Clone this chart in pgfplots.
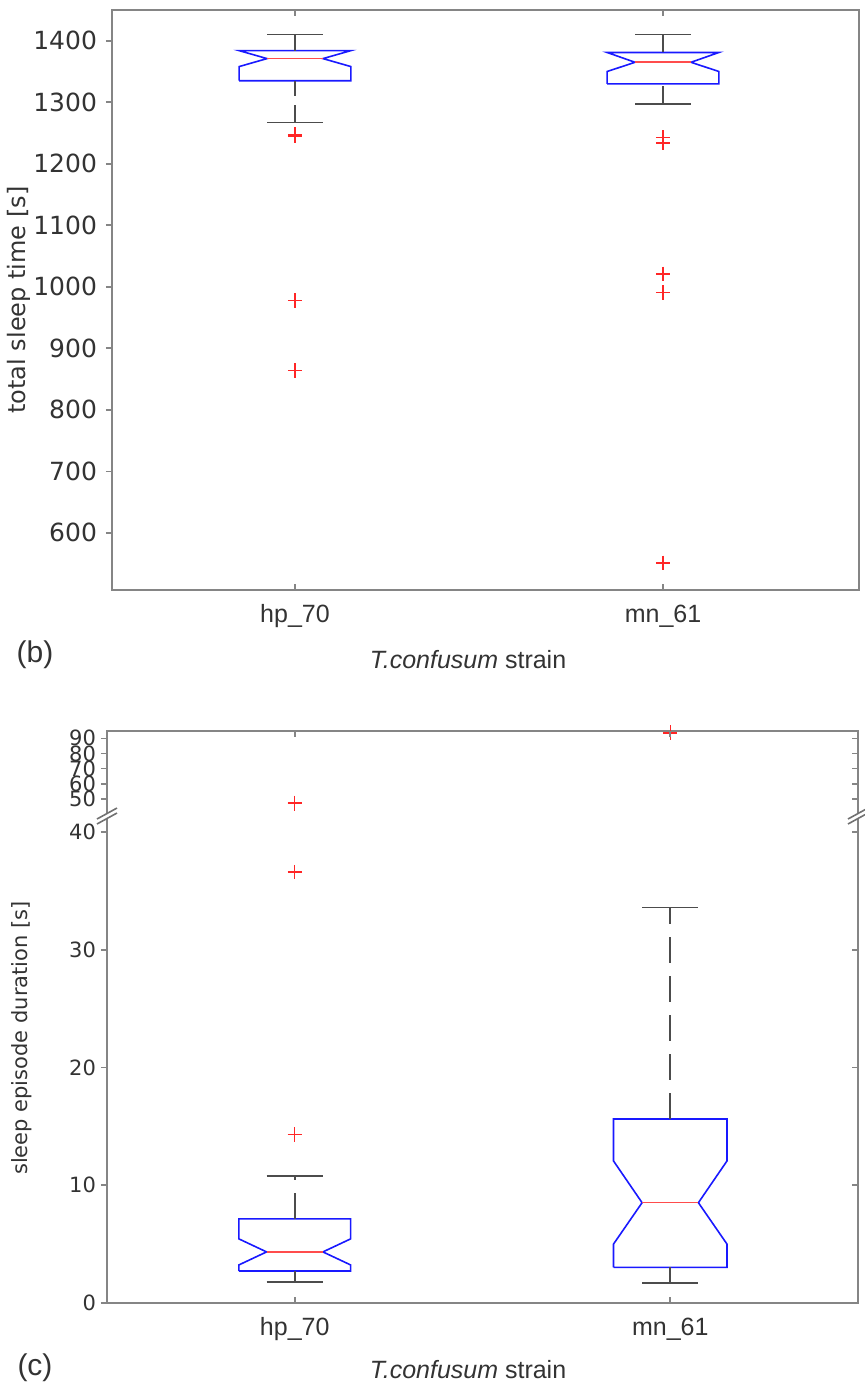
\documentclass[border=0pt]{standalone}
\usepackage{pgfplots}
\pgfplotsset{compat=1.18}
\usepackage{fontspec}
\setmainfont{Liberation Sans}
\newfontfamily\dejavu{DejaVu Sans}

\definecolor{boxblue}{rgb}{0.1,0.1,1}
\definecolor{medred}{rgb}{1,0.3,0.3}
\definecolor{outred}{rgb}{1,0.15,0.15}
\definecolor{framegray}{gray}{0.52}
\definecolor{whisk}{gray}{0.3}
\definecolor{labgray}{gray}{0.2}

\pgfplotsset{
  boxpanel/.style={
    scale only axis,
    axis line style={framegray, line width=1pt},
    tick style={framegray, line width=0.8pt},
    major tick length=3pt,
    tick align=outside,
    ytick pos=left,
    xtick=\empty,
    clip=false,
  },
  tickpanel/.style={
    scale only axis,
    axis line style={draw=none},
    tick style={framegray, line width=0.8pt},
    major tick length=3pt,
    tick align=inside,
    xtick={1,2},
    xtick pos=both,
    xticklabel pos=bottom,
    xticklabels={hp\_70,mn\_61},
    xticklabel style={font=\fontsize{12.5}{12.5}\selectfont, text=labgray, anchor=center, yshift=-13pt},
  },
  notchbox/.style={boxblue, line width=0.8pt},
  median/.style={medred, line width=0.8pt},
  cap/.style={whisk, line width=0.8pt},
  outlier/.style={only marks, mark=+, mark size=3.6pt, outred, mark options={line width=0.7pt}},
}

\begin{document}
\begin{tikzpicture}
\path[use as bounding box] (0,0) rectangle (432pt,-694pt);

% ---------------- panel (b): total sleep time ----------------
\begin{axis}[boxpanel, at={(56pt,-295pt)}, anchor=south west,
  width=373.5pt, height=290pt,
  xmin=0.5027, xmax=2.5326, ymin=507, ymax=1450,
  ytick={600,700,800,900,1000,1100,1200,1300,1400},
  yticklabels={600,700,800,900,1000,1100,1200,1300,1400},
  yticklabel style={font=\dejavu\fontsize{12.5}{12.5}\selectfont, text=labgray, xshift=-1pt},
  whisker/.style={whisk, line width=0.8pt, dash pattern=on 9pt off 4.5pt}]
  % hp_70
  \addplot[notchbox] coordinates {(0.848,1335) (0.848,1358) (0.924,1371) (0.848,1384)
    (1.152,1384) (1.076,1371) (1.152,1358) (1.152,1335) (0.848,1335)};
  \addplot[median] coordinates {(0.924,1371) (1.076,1371)};
  \addplot[whisker] coordinates {(1,1384) (1,1410)};
  \addplot[whisker] coordinates {(1,1267) (1,1335)};
  \addplot[cap] coordinates {(0.925,1410) (1.075,1410)};
  \addplot[cap] coordinates {(0.925,1267) (1.075,1267)};
  \addplot[outlier] coordinates {(1,1248) (1,1245) (1,978) (1,864)};
  % mn_61
  \addplot[notchbox] coordinates {(1.848,1330) (1.848,1350) (1.924,1365) (1.848,1381)
    (2.152,1381) (2.076,1365) (2.152,1350) (2.152,1330) (1.848,1330)};
  \addplot[median] coordinates {(1.924,1365) (2.076,1365)};
  \addplot[whisker] coordinates {(2,1381) (2,1410)};
  \addplot[whisker] coordinates {(2,1297) (2,1330)};
  \addplot[cap] coordinates {(1.925,1410) (2.075,1410)};
  \addplot[cap] coordinates {(1.925,1297) (2.075,1297)};
  \addplot[outlier] coordinates {(2,1243) (2,1234) (2,1021) (2,991) (2,551)};
\end{axis}
\begin{axis}[tickpanel, at={(56pt,-295pt)}, anchor=south west,
  width=373.5pt, height=290pt,
  xmin=0.5027, xmax=2.5326, ymin=507, ymax=1450, ytick=\empty]
\end{axis}

\node[rotate=90, font=\dejavu\fontsize{12}{12}\selectfont, text=labgray] at (9.5pt,-150pt) {total sleep time [s]};
\node[font=\fontsize{12.5}{12.5}\selectfont, text=labgray] at (234pt,-330pt) {\textit{T.confusum} strain};
\node[font=\fontsize{15}{15}\selectfont, text=labgray] at (17.5pt,-327.5pt) {(b)};

% ---------------- panel (c): sleep episode duration (broken axis) ----------------
\pgfplotsset{
  brokeny/.style={
    ymin=0, ymax=94.8,
    y coord trafo/.code={\pgfmathparse{##1>40 ? 42.80+(##1-50)*0.129 : ##1}},
  }
}
\begin{axis}[boxpanel, brokeny, at={(53.5pt,-651.5pt)}, anchor=south west,
  width=375.5pt, height=286pt,
  xmin=0.5, xmax=2.5,
  ytick={0,10,20,30,40,50,60,70,80,90},
  yticklabels={0,10,20,30,40,50,60,70,80,90},
  yticklabel style={font=\dejavu\fontsize{10.5}{10.5}\selectfont, text=labgray, xshift=1pt},
  whisker/.style={whisk, line width=0.8pt, dash pattern=on 13pt off 6.5pt}]
  % hp_70
  \addplot[notchbox] coordinates {(0.851,2.72) (0.851,3.23) (0.925,4.34) (0.851,5.45) (0.851,7.15)
    (1.149,7.15) (1.149,5.45) (1.075,4.34) (1.149,3.23) (1.149,2.72) (0.851,2.72)};
  \addplot[median] coordinates {(0.925,4.34) (1.075,4.34)};
  \addplot[whisker] coordinates {(1,7.15) (1,10.8)};
  \addplot[whisker] coordinates {(1,1.79) (1,2.72)};
  \addplot[cap] coordinates {(0.925,10.8) (1.075,10.8)};
  \addplot[cap] coordinates {(0.925,1.79) (1.075,1.79)};
  \addplot[outlier] coordinates {(1,14.3) (1,36.6) (1,47) (1,47.5)};
  % mn_61
  \addplot[notchbox] coordinates {(1.849,3.03) (1.849,5.01) (1.925,8.52) (1.849,12.06) (1.849,15.63)
    (2.151,15.63) (2.151,12.06) (2.075,8.52) (2.151,5.01) (2.151,3.03) (1.849,3.03)};
  \addplot[median] coordinates {(1.925,8.52) (2.075,8.52)};
  \addplot[whisker] coordinates {(2,15.63) (2,33.6)};
  \addplot[whisker] coordinates {(2,1.72) (2,3.03)};
  \addplot[cap] coordinates {(1.925,33.6) (2.075,33.6)};
  \addplot[cap] coordinates {(1.925,1.72) (2.075,1.72)};
  \addplot[outlier] coordinates {(2,93.5) (2,94)};
\end{axis}
\begin{axis}[tickpanel, brokeny, at={(53.5pt,-651.5pt)}, anchor=south west,
  width=375.5pt, height=286pt,
  xmin=0.5, xmax=2.5,
  ytick={0,10,20,30,40,50,60,70,80,90}, ytick pos=right, yticklabels={}]
\end{axis}

% break marks on both vertical axes
\foreach \bx in {53.5pt,429pt}{
  \fill[white] ([xshift=-5pt]\bx,-409.5pt) -- ([xshift=5pt]\bx,-404pt) -- ([xshift=5pt]\bx,-406.5pt) -- ([xshift=-5pt]\bx,-412pt) -- cycle;
  \draw[framegray!85!black, line width=0.8pt] ([xshift=-5pt]\bx,-409.5pt) -- ([xshift=5pt]\bx,-404pt);
  \draw[framegray!85!black, line width=0.8pt] ([xshift=-5pt]\bx,-412pt) -- ([xshift=5pt]\bx,-406.5pt);
}

\node[rotate=90, font=\dejavu\fontsize{10.5}{10.5}\selectfont, text=labgray] at (11pt,-519pt) {sleep episode duration [s]};
\node[font=\fontsize{12.5}{12.5}\selectfont, text=labgray] at (234pt,-685pt) {\textit{T.confusum} strain};
\node[font=\fontsize{15}{15}\selectfont, text=labgray] at (17.5pt,-684pt) {(c)};
\end{tikzpicture}
\end{document}
